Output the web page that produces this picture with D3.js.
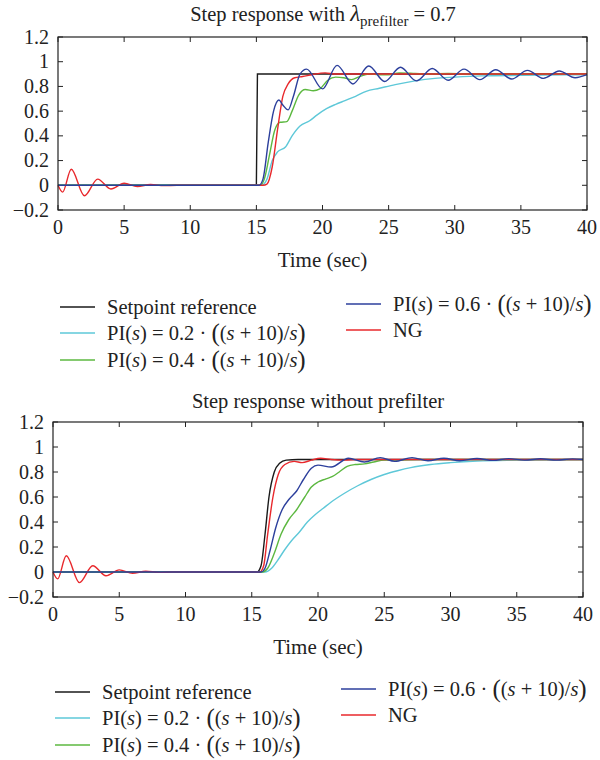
<!DOCTYPE html>
<html><head><meta charset="utf-8">
<script src="https://cdn.jsdelivr.net/npm/d3@7"></script>
<style>
body{margin:0;background:#fff;}
svg text{font-family:"Liberation Serif","DejaVu Serif",serif;fill:#222;}
</style></head>
<body><svg id="c" width="600" height="760"></svg>
<script>
const xTicks=[0,5,10,15,20,25,30,35,40];
const yTicks=[-0.2,0,0.2,0.4,0.6,0.8,1,1.2];
const ngStart=[[0,0],[0.35,-0.055],[1.0,0.13],[2.0,-0.085],[3.0,0.05],[4.0,-0.03],[5.0,0.017],[6.0,-0.01],[7.0,0.006],[8.0,-0.003],[9,0]];

// Top chart (with prefilter)
const topSetpoint=[[0,0],[15,0],[15.08,0.9],[40,0.9]];
const topPI02=[[0,0],[15.4,0],[15.8,0.05],[16.2,0.2],[16.6,0.27],[17.2,0.31],[17.7,0.4],[18.3,0.48],[19.0,0.52],[19.6,0.57],[20.3,0.62],[21.0,0.655],[21.7,0.685],[22.5,0.72],[23.3,0.76],[24.3,0.785],[25.5,0.815],[27,0.845],[28.5,0.865],[30,0.875],[32,0.885],[35,0.89],[40,0.895]];
const topPI04=[[0,0],[15.3,0],[15.6,0.05],[16.0,0.25],[16.4,0.45],[16.8,0.51],[17.3,0.515],[17.7,0.6],[18.2,0.73],[18.7,0.775],[19.3,0.765],[19.8,0.78],[20.4,0.85],[21.0,0.875],[21.6,0.87],[22.2,0.855],[22.8,0.88],[23.5,0.9],[24.3,0.895],[25,0.895],[25.8,0.91],[27,0.905],[28,0.9],[29.5,0.905],[31,0.9],[40,0.9]];
const topPI06=[[0,0],[15.2,0],[15.5,0.05],[15.9,0.35],[16.3,0.6],[16.7,0.69],[17.0,0.65],[17.4,0.61],[17.8,0.72],[18.3,0.9],[18.8,0.94],[20.0,0.78],[21.1,0.97],[22.3,0.82],[23.5,0.965],[24.7,0.84],[25.9,0.955],[27.1,0.845],[28.3,0.945],[29.5,0.85],[30.7,0.94],[31.9,0.855],[33.1,0.935],[34.3,0.86],[35.5,0.93],[36.7,0.865],[37.9,0.925],[39.1,0.87],[40,0.895]];
const topNG=ngStart.concat([[15.5,0],[15.8,0.01],[16.2,0.15],[16.6,0.45],[17.0,0.72],[17.4,0.82],[17.9,0.87],[18.5,0.88],[19.2,0.895],[20.2,0.91],[21,0.9],[40,0.9]]);

// Bottom chart (without prefilter)
const botSetpoint=[[0,0],[15.4,0],[15.7,0.05],[16.0,0.3],[16.3,0.6],[16.7,0.8],[17.1,0.87],[17.6,0.895],[18.5,0.9],[40,0.9]];
const botPI02=[[0,0],[16.0,0],[16.5,0.03],[17.0,0.1],[17.5,0.18],[18.0,0.25],[18.6,0.32],[19.2,0.4],[19.8,0.46],[20.4,0.51],[21.0,0.56],[22.0,0.63],[23.0,0.69],[24.0,0.74],[25.0,0.78],[26.0,0.81],[27.0,0.835],[28.5,0.86],[30,0.875],[32,0.888],[35,0.895],[40,0.9]];
const botPI04=[[0,0],[15.8,0],[16.2,0.03],[16.7,0.15],[17.2,0.3],[17.8,0.42],[18.4,0.5],[19.0,0.6],[19.5,0.68],[20,0.72],[20.6,0.745],[21.1,0.765],[21.6,0.8],[22.2,0.845],[22.8,0.86],[23.5,0.865],[24.2,0.88],[25,0.895],[26,0.895],[27.5,0.9],[40,0.9]];
const botPI06=[[0,0],[15.7,0],[16.0,0.03],[16.4,0.18],[16.8,0.35],[17.3,0.5],[17.8,0.58],[18.4,0.65],[18.9,0.74],[19.5,0.83],[20.0,0.855],[21.0,0.84],[22.3,0.91],[23.5,0.88],[24.7,0.915],[25.8,0.885],[27.1,0.915],[28.3,0.89],[29.5,0.91],[30.7,0.89],[32,0.908],[33.2,0.893],[34.4,0.907],[35.6,0.895],[36.8,0.906],[38,0.895],[39.2,0.905],[40,0.9]];
const botNG=ngStart.concat([[15.6,0],[15.9,0.05],[16.2,0.3],[16.6,0.6],[17.0,0.78],[17.5,0.86],[18.2,0.885],[18.8,0.875],[19.5,0.895],[20.2,0.91],[21,0.9],[22,0.895],[23,0.9],[40,0.9]]);

const colors={sp:"#1a1a1a",pi02:"#5ec8d8",pi04:"#5cb840",pi06:"#2c3f9c",ng:"#e8282c"};
const svg=d3.select("#c");

function chart(cfg){
  const g=svg.append("g");
  const x=d3.scaleLinear().domain([0,40]).range([cfg.l,cfg.r]);
  const y=d3.scaleLinear().domain([-0.2,1.2]).range([cfg.b,cfg.t]);
  const tl=5;
  const ax=g.append("g").attr("stroke","#222").attr("stroke-width",1);
  xTicks.forEach(v=>{
    ax.append("line").attr("x1",x(v)).attr("x2",x(v)).attr("y1",cfg.b).attr("y2",cfg.b-tl);
    ax.append("line").attr("x1",x(v)).attr("x2",x(v)).attr("y1",cfg.t).attr("y2",cfg.t+tl);
  });
  yTicks.forEach(v=>{
    ax.append("line").attr("x1",cfg.l).attr("x2",cfg.l+tl).attr("y1",y(v)).attr("y2",y(v));
    ax.append("line").attr("x1",cfg.r).attr("x2",cfg.r-tl).attr("y1",y(v)).attr("y2",y(v));
  });
  g.selectAll(".xl").data(xTicks).enter().append("text").attr("x",d=>x(d)).attr("y",cfg.b+24)
    .attr("text-anchor","middle").attr("font-size",20).text(d=>d);
  g.selectAll(".yl").data(yTicks).enter().append("text").attr("x",cfg.l-9).attr("y",d=>y(d)+6.5)
    .attr("text-anchor","end").attr("font-size",20).text(d=>d<0?"\u22120.2":String(d));
  const line=d3.line().x(d=>x(d[0])).y(d=>y(d[1])).curve(d3.curveMonotoneX);
  const series=[[cfg.sp,colors.sp,cfg.spLinear],[cfg.pi02,colors.pi02],[cfg.pi04,colors.pi04],[cfg.ng,colors.ng],[cfg.pi06,colors.pi06]];
  series.forEach(([data,c,lin])=>{
    const ln=lin?d3.line().x(d=>x(d[0])).y(d=>y(d[1])):line;
    g.append("path").attr("d",ln(data)).attr("fill","none").attr("stroke",c).attr("stroke-width",1.4);
  });
  g.append("rect").attr("x",cfg.l).attr("y",cfg.t).attr("width",cfg.r-cfg.l).attr("height",cfg.b-cfg.t)
    .attr("fill","none").attr("stroke","#222").attr("stroke-width",1.2);
  g.append("text").attr("x",(cfg.l+cfg.r)/2).attr("y",cfg.b+57).attr("text-anchor","middle").attr("font-size",21).text("Time (sec)");
  return g;
}

function legend(ox,oy,cx2){
  const g=svg.append("g");
  const rows=[
    {x:0,y:0,c:colors.sp,t:"sp"},
    {x:0,y:26,c:colors.pi02,t:"0.2"},
    {x:0,y:53,c:colors.pi04,t:"0.4"},
    {x:cx2,y:-3,c:colors.pi06,t:"0.6"},
    {x:cx2,y:23,c:colors.ng,t:"ng"}];
  rows.forEach(r=>{
    g.append("line").attr("x1",ox+r.x).attr("x2",ox+r.x+35).attr("y1",oy+r.y).attr("y2",oy+r.y).attr("stroke",r.c).attr("stroke-width",1.5);
    const t=g.append("text").attr("x",ox+r.x+47).attr("y",oy+r.y+7).attr("font-size",20.5);
    if(r.t==="sp"){t.text("Setpoint reference");}
    else if(r.t==="ng"){t.text("NG");}
    else{
      t.append("tspan").text("PI(");
      t.append("tspan").attr("font-style","italic").text("s");
      t.append("tspan").text(") = "+r.t+" \u00b7 ");
      t.append("tspan").attr("font-size",25).attr("dy",1).text("(");
      t.append("tspan").attr("dy",-1).text("(");
      t.append("tspan").attr("font-style","italic").text("s");
      t.append("tspan").text(" + 10)/");
      t.append("tspan").attr("font-style","italic").text("s");
      t.append("tspan").attr("font-size",25).attr("dy",1).text(")");
    }
  });
}

const t1=svg.append("text").attr("x",323).attr("y",21).attr("text-anchor","middle").attr("font-size",20.5);
t1.append("tspan").text("Step response with ");
t1.append("tspan").attr("font-style","italic").attr("font-size",23).text("\u03bb");
t1.append("tspan").attr("font-size",15).attr("dy",5).text("prefilter");
t1.append("tspan").attr("dy",-5).text(" = 0.7");

svg.append("text").attr("x",318).attr("y",408).attr("text-anchor","middle").attr("font-size",20.5).text("Step response without prefilter");

chart({l:58,r:587,t:37,b:210,sp:topSetpoint,spLinear:true,pi02:topPI02,pi04:topPI04,pi06:topPI06,ng:topNG});
chart({l:53,r:583,t:422,b:597,sp:botSetpoint,pi02:botPI02,pi04:botPI04,pi06:botPI06,ng:botNG});

legend(60,307,286);
legend(55,692,286);
</script></body></html>
